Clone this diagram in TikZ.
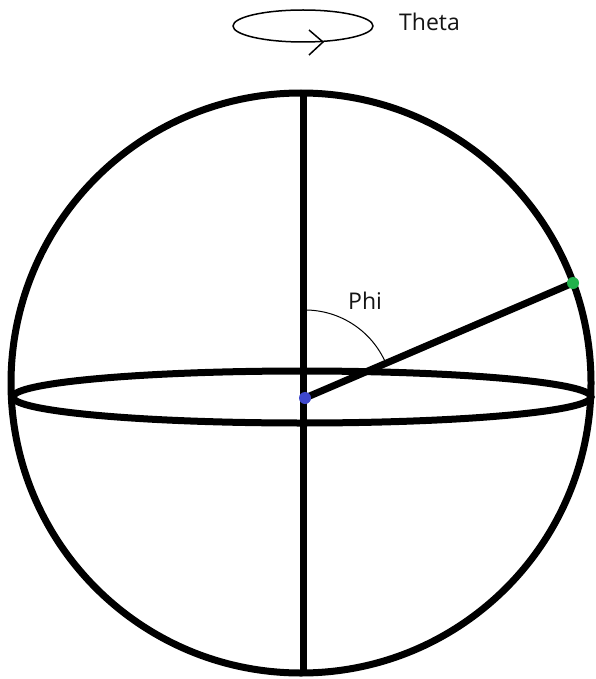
\documentclass[tikz,border=0pt]{standalone}
\usepackage{fontspec}
\setmainfont{Open Sans}
\definecolor{dotblue}{HTML}{3F48CC}
\definecolor{dotgreen}{HTML}{22B14C}
\definecolor{txt}{HTML}{141414}
\begin{document}
\begin{tikzpicture}[x=1pt,y=-1pt,
  thick line/.style={line width=7pt},
  thin line/.style={line width=1.5pt},
  dotnode/.style={circle,inner sep=0pt,minimum size=12pt},
  lbl/.style={inner sep=0pt,text=txt,font=\fontsize{23}{23}\selectfont}]
\useasboundingbox (0,0) rectangle (595,679);
\fill[white] (0,0) rectangle (595,679);
% sphere
\coordinate (O) at (301,383);
\draw[thick line] (O) circle[radius=290];
% equator
\coordinate (E) at (302,397);
\draw[thick line] (E) ellipse[x radius=289, y radius=26];
% axis
\coordinate (top) at (303,93);
\coordinate (bot) at (303,674);
\draw[thick line] (top) -- (bot);
% dots
\node[dotnode] (b) at (305,398) {};
\node[dotnode] (g) at (573,283) {};
\draw[thick line] (b.center) -- (g.center);
\fill[dotblue] (b.center) circle[radius=6];
\fill[dotgreen] (g.center) circle[radius=6];
% phi arc
\draw[line width=1pt] (b.center) ++(-90:88) arc[start angle=-90,end angle=-23.4,radius=88];
\node[lbl,anchor=base west] (phi) at (348,309) {Phi};
% theta
\coordinate (T) at (303,26);
\draw[thin line] (T) ellipse[x radius=70, y radius=16];
\coordinate (tip) at (323,42);
\coordinate (a1) at (309,30);
\coordinate (a2) at (309,55);
\draw[thin line] (a1) -- (tip) -- (a2);
\node[lbl,anchor=base west] (theta) at (399,31) {Theta};
\end{tikzpicture}
\end{document}
